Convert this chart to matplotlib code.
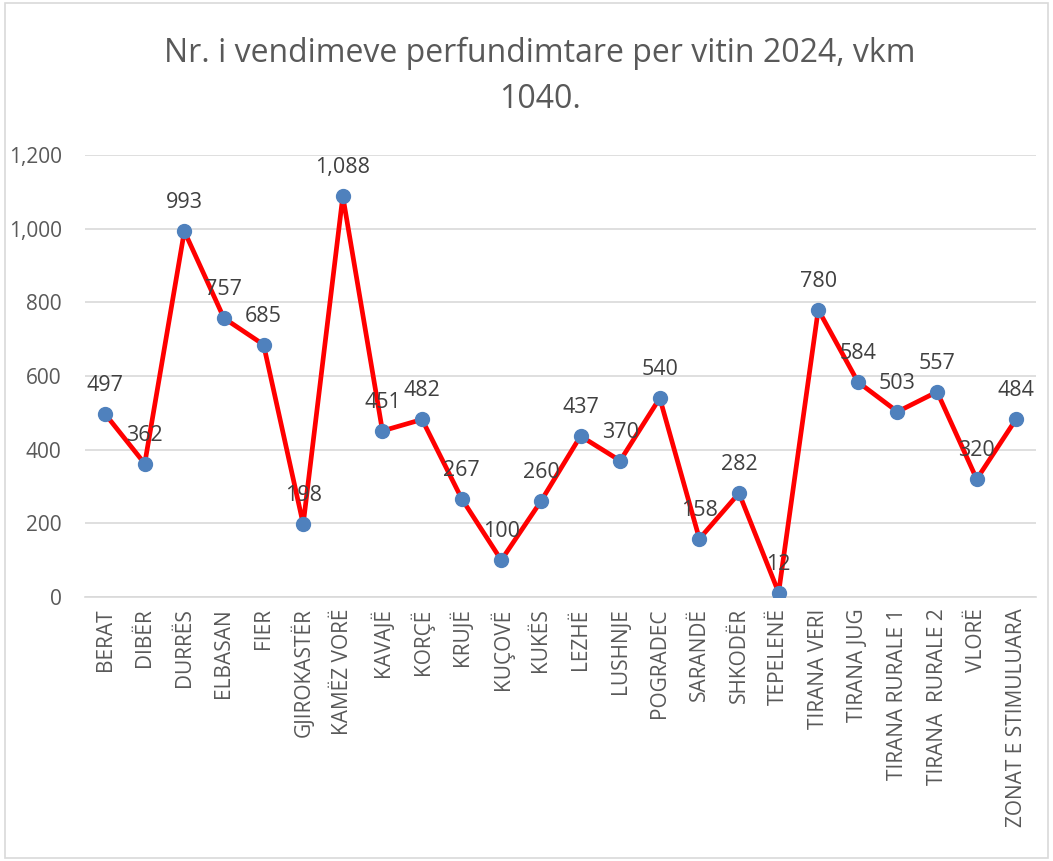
import matplotlib
matplotlib.use("Agg")
import matplotlib.pyplot as plt
from matplotlib.ticker import FuncFormatter
from matplotlib.patches import Rectangle

plt.rcParams["font.family"] = ["Open Sans", "DejaVu Sans"]

categories = ["BERAT", "DIBËR", "DURRËS", "ELBASAN", "FIER", "GJIROKASTËR",
              "KAMËZ VORË", "KAVAJË", "KORÇË", "KRUJË", "KUÇOVË", "KUKËS",
              "LEZHË", "LUSHNJE", "POGRADEC", "SARANDË", "SHKODËR", "TEPELENË",
              "TIRANA VERI", "TIRANA JUG", "TIRANA RURALE 1", "TIRANA  RURALE 2",
              "VLORË", "ZONAT E STIMULUARA"]
values = [497, 362, 993, 757, 685, 198, 1088, 451, 482, 267, 100, 260,
          437, 370, 540, 158, 282, 12, 780, 584, 503, 557, 320, 484]
yticks = [0, 200, 400, 600, 800, 1000, 1200]

fig = plt.figure(figsize=(10.53, 8.61), dpi=100)
ax = fig.add_axes([0.081, 0.3066, 0.903, 0.5134])

x = list(range(len(categories)))
ax.plot(x, values, color="#FF0000", linewidth=3.4, zorder=2)
ax.plot(x, values, linestyle="none", marker="o", markersize=10,
        markerfacecolor="#4F81BD", markeredgecolor="#4F81BD", zorder=3)

for xi, v in zip(x, values):
    ax.annotate(f"{v:,}", (xi, v), xytext=(0, 13), textcoords="offset points",
                ha="center", va="bottom", fontsize=15.5, color="#404040", zorder=4)

ax.set_xlim(-0.5, len(categories) - 0.5)
ax.set_ylim(0, 1200)
ax.set_yticks(yticks)
ax.yaxis.set_major_formatter(FuncFormatter(lambda v, p: f"{int(v):,}"))
ax.set_xticks(x)
ax.set_xticklabels(categories, rotation=90)
ax.tick_params(axis="both", length=0, labelsize=15, labelcolor="#595959")
ax.tick_params(axis="y", pad=17)
ax.tick_params(axis="x", pad=8)

ax.grid(axis="y", color="#D9D9D9", linewidth=1.2, zorder=0)
ax.set_axisbelow(True)
for side in ["top", "right", "left"]:
    ax.spines[side].set_visible(False)
ax.spines["bottom"].set_color("#D9D9D9")
ax.spines["bottom"].set_linewidth(1.2)

fig.text(0.513, 0.911, "Nr. i vendimeve perfundimtare per vitin 2024, vkm\n1040.",
         ha="center", va="center", fontsize=23, color="#595959", linespacing=1.5)

fig.patches.append(Rectangle((0.005, 0.003), 0.99, 0.994, transform=fig.transFigure,
                             fill=False, edgecolor="#D9D9D9", linewidth=1.2))

fig.savefig("out.png", dpi=100)
